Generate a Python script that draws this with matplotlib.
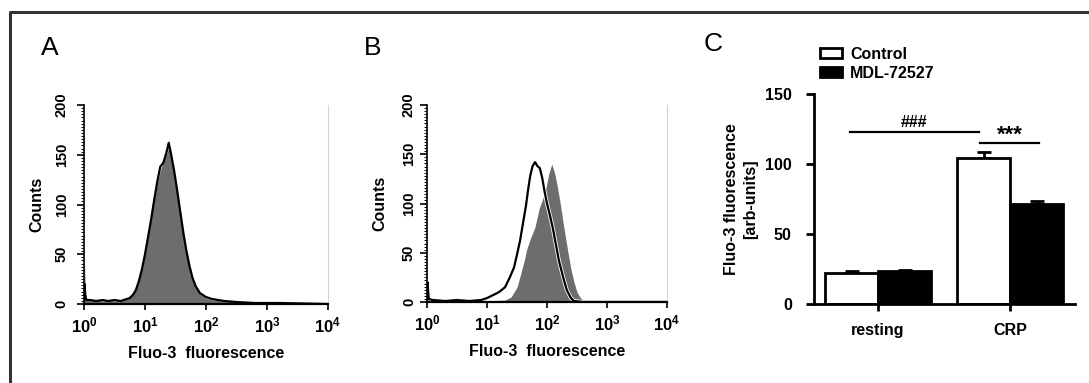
import matplotlib
matplotlib.use('Agg')
import matplotlib.pyplot as plt
import matplotlib.ticker as mticker
from matplotlib.patches import Patch
from matplotlib.lines import Line2D

plt.rcParams['font.family'] = ['Liberation Sans', 'DejaVu Sans']
plt.rcParams['font.weight'] = 'bold'
plt.rcParams['axes.labelweight'] = 'bold'
plt.rcParams['mathtext.fontset'] = 'custom'
plt.rcParams['mathtext.rm'] = 'Liberation Sans:bold'
plt.rcParams['mathtext.bf'] = 'Liberation Sans:bold'

# ---- panel A: resting, filled = control, outline = MDL-72527
a_fluo = [1.0, 1.02, 1.05, 1.1, 1.26, 1.58, 2.0, 2.51, 3.16, 3.98, 5.01, 5.62, 6.31,
          7.08, 7.94, 8.91, 10.0, 11.2, 12.6, 14.1, 15.8, 17.8, 20.0, 22.4, 24.5,
          26.9, 30.2, 33.9, 38.0, 42.7, 47.9, 53.7, 60.3, 67.6, 79.4, 100, 126, 200,
          316, 631, 1585, 10000]
a_fill = [0, 40, 14, 5, 4, 4, 3, 4, 3, 4, 5, 7, 10,
          16, 25, 37, 52, 68, 86, 104, 120, 134, 143, 150, 158,
          148, 130, 110, 88, 68, 50, 35, 24, 16, 10, 6, 4, 3,
          2, 1, 1, 0]
a_line = [0, 20, 8, 4, 4, 3, 4, 3, 4, 3, 5, 6, 9,
          14, 23, 35, 50, 67, 85, 104, 122, 138, 142, 152, 162,
          150, 133, 113, 92, 71, 53, 38, 26, 18, 11, 7, 5, 3,
          2, 1, 1, 0]

# ---- panel B: CRP, filled = MDL-72527, outline = control
b_fluo_line = [1.0, 1.02, 1.07, 1.26, 2.0, 3.16, 5.01, 7.94, 10.0, 12.6, 15.8, 20.0,
               24.0, 28.2, 31.6, 35.5, 39.8, 44.7, 47.9, 52.5, 57.5, 63.1, 69.2, 75.9,
               83.2, 91.2, 100, 112, 126, 141, 158, 186, 214, 251, 282, 398, 10000]
b_line = [0, 20, 3, 2, 1, 2, 1, 2, 4, 7, 10, 15,
          25, 35, 48, 62, 80, 98, 112, 128, 138, 142, 138, 136,
          126, 112, 100, 88, 74, 58, 42, 25, 12, 4, 1, 0, 0]
b_fluo_fill = [1.0, 1.02, 1.07, 3.16, 10.0, 20.0, 25.1, 31.6, 35.5, 41.7, 45.7, 52.5,
               63.1, 74.1, 85.1, 95.5, 107, 120, 135, 151, 166, 186, 204, 224,
               251, 282, 316, 363, 427, 10000]
b_fill = [0, 15, 2, 1, 1, 2, 5, 15, 26, 42, 53, 64,
          76, 95, 105, 115, 130, 140, 130, 115, 100, 80, 65, 50,
          33, 20, 10, 4, 0, 0]

# ---- panel C: mean fluorescence
groups = ['resting', 'CRP']
ctrl_mean = [22.4, 104.3]
ctrl_err = [1.2, 4.3]
mdl_mean = [23.6, 71.4]
mdl_err = [0.4, 2.0]

FILL = '#6d6d6d'
W, H = 1089, 383
fig = plt.figure(figsize=(W / 100, H / 100), dpi=100)


def fbox(x0, y_top, x1, y_bot):
    return [x0 / W, 1 - y_bot / H, (x1 - x0) / W, (y_bot - y_top) / H]


def histo(ax, ypad):
    ax.set_xscale('log')
    ax.set_xlim(1, 10000)
    ax.set_ylim(0, 200)
    ax.spines['top'].set_visible(False)
    ax.spines['right'].set_color('#d4d4d4')
    ax.spines['right'].set_linewidth(0.8)
    ax.spines['left'].set_linewidth(1.2)
    ax.spines['bottom'].set_linewidth(1.6)
    ax.xaxis.set_major_locator(mticker.FixedLocator([1, 10, 100, 1000, 10000]))
    ax.set_xticklabels([r'$\mathbf{10^{%d}}$' % i for i in range(5)])
    ax.xaxis.set_minor_locator(mticker.LogLocator(base=10, subs=range(2, 10)))
    ax.xaxis.set_minor_formatter(mticker.NullFormatter())
    ax.yaxis.set_major_locator(mticker.MultipleLocator(50))
    ax.yaxis.set_minor_locator(mticker.MultipleLocator(3.125))
    ax.tick_params(axis='x', which='major', direction='out', length=4, width=1.2,
                   labelsize=12, pad=4)
    ax.tick_params(axis='x', which='minor', direction='in', length=3, width=0.8)
    ax.tick_params(axis='y', which='major', direction='out', length=5, width=1.2,
                   labelsize=10.5, pad=ypad, labelrotation=90)
    ax.tick_params(axis='y', which='minor', direction='out', length=2.5, width=0.7)
    for t in ax.get_yticklabels():
        t.set_va('center')
    ax.set_xlabel('Fluo-3  fluorescence', fontsize=11.5, labelpad=8)
    ax.set_ylabel('Counts', fontsize=11.5)


ax_a = fig.add_axes(fbox(84, 105, 328, 304))
ax_a.fill_between(a_fluo, a_fill, color=FILL, lw=0)
ax_a.plot(a_fluo, a_line, color='black', lw=1.6)
histo(ax_a, 6)
ax_a.yaxis.set_label_coords(-0.162, 0.5)

ax_b = fig.add_axes(fbox(427, 105, 667, 302))
ax_b.fill_between(b_fluo_fill, b_fill, color=FILL, lw=0)
ax_b.plot(b_fluo_line, b_line, color='white', lw=2.8)
ax_b.plot(b_fluo_line, b_line, color='black', lw=1.6)
histo(ax_b, 3)
ax_b.yaxis.set_label_coords(-0.165, 0.5)

# ---- panel C bars
ax_c = fig.add_axes(fbox(814, 94, 1075, 304))
xs = list(range(len(groups)))
bw = 0.4
xc = [x - bw / 2 for x in xs]
xm = [x + bw / 2 for x in xs]
ax_c.bar(xc, ctrl_mean, width=bw, color='white', edgecolor='black', lw=2, zorder=2)
ax_c.bar(xm, mdl_mean, width=bw, color='black', edgecolor='black', lw=2, zorder=2)
ax_c.errorbar(xc, ctrl_mean, yerr=[[0, 0], ctrl_err], fmt='none', ecolor='black',
              elinewidth=2, capsize=5, capthick=2, zorder=1)
ax_c.errorbar(xm, mdl_mean, yerr=[[0, 0], mdl_err], fmt='none', ecolor='black',
              elinewidth=2, capsize=5, capthick=2, zorder=1)
ax_c.set_xlim(-0.485, 1.49)
ax_c.set_ylim(0, 150)
ax_c.set_xticks(xs)
ax_c.set_xticklabels(groups, fontsize=11.5)
ax_c.set_yticks([0, 50, 100, 150])
ax_c.tick_params(axis='y', length=6, width=2, labelsize=11.5, pad=10)
ax_c.tick_params(axis='x', length=5, width=2, pad=9)
for s in ['top', 'right']:
    ax_c.spines[s].set_visible(False)
for s in ['left', 'bottom']:
    ax_c.spines[s].set_linewidth(2)
ax_c.set_ylabel('Fluo-3 fluorescence\n[arb-units]', fontsize=11.5, linespacing=1.35)
ax_c.yaxis.set_label_coords(-0.215, 0.5)

# significance markers
ax_c.plot([-0.21, 0.76], [123, 123], color='black', lw=1.6, clip_on=False)
ax_c.text(0.27, 124.5, '###', ha='center', va='bottom', fontsize=11.5)
ax_c.plot([0.77, 1.22], [115, 115], color='black', lw=1.6, clip_on=False)
ax_c.text(1.0, 113, '***', ha='center', va='bottom', fontsize=16)

handles = [Patch(facecolor='white', edgecolor='black', lw=2),
           Patch(facecolor='black', edgecolor='black', lw=2)]
fig.legend(handles, ['Control', 'MDL-72527'], loc='lower left',
           bbox_to_anchor=(820 / W, 1 - 81 / H), frameon=False, borderpad=0,
           borderaxespad=0, handlelength=1.35, handleheight=0.6, handletextpad=0.55,
           labelspacing=0.28, prop={'size': 11.5, 'weight': 'bold'})

# panel letters
fig.text(50 / W, 1 - 48 / H, 'A', fontsize=19, fontweight='normal', ha='center', va='center')
fig.text(373 / W, 1 - 48 / H, 'B', fontsize=19, fontweight='normal', ha='center', va='center')
fig.text(713 / W, 1 - 44 / H, 'C', fontsize=19, fontweight='normal', ha='center', va='center')

# outer frame (top and left edges only)
fig.add_artist(Line2D([9.5 / W, 9.5 / W, 1.0], [0.0, 1 - 11.5 / H, 1 - 11.5 / H],
                      transform=fig.transFigure, color='#333333', lw=2.2))

fig.savefig('out.png', dpi=100)
